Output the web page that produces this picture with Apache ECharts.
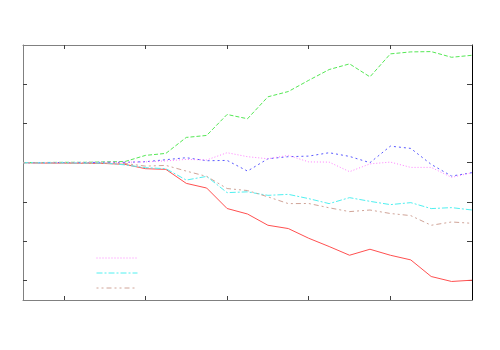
<!DOCTYPE html>
<html>
<head>
<meta charset="utf-8">
<script src="https://cdn.jsdelivr.net/npm/echarts@6/dist/echarts.min.js"></script>
<style>html,body{margin:0;padding:0;background:#fff}#c{width:500px;height:350px}</style>
</head>
<body>
<div id="c"></div>
<script>
const xs = [0,1,2,3,4,5,6,7,8,9,10,11,12,13,14,15,16,17,18,19,20,21,22];
const xTicks = [2,6,10,14,18];
const yTicks = [-3,-2,-1,0,1,2];
const red     = [0,-0.01,-0.01,-0.015,-0.02,-0.043,-0.153,-0.17,-0.527,-0.646,-1.168,-1.308,-1.595,-1.679,-1.926,-2.137,-2.359,-2.206,-2.359,-2.478,-2.901,-3.028,-2.995];
const green   = [0,0.005,0.01,0.01,0.02,0.03,0.186,0.237,0.644,0.695,1.229,1.12,1.679,1.814,2.10,2.374,2.519,2.188,2.774,2.824,2.832,2.687,2.738];
const blue    = [0,0,0.005,0.005,0.01,0.01,0.025,0.076,0.127,0.05,0.058,-0.214,0.10,0.153,0.168,0.254,0.16,0.0,0.422,0.364,-0.043,-0.341,-0.254];
const magenta = [0,0,0.005,0.005,0.01,0.01,0.02,0.046,0.084,0.07,0.254,0.153,0.10,0.186,0.02,0.015,-0.229,-0.03,0.015,-0.12,-0.12,-0.374,-0.254];
const cyan    = [0,-0.005,-0.005,-0.01,-0.01,-0.056,-0.127,-0.153,-0.443,-0.349,-0.763,-0.743,-0.832,-0.807,-0.916,-1.043,-0.891,-0.985,-1.069,-1.018,-1.170,-1.145,-1.206];
const brown   = [0,-0.005,-0.005,-0.005,-0.01,-0.02,-0.087,-0.069,-0.214,-0.349,-0.659,-0.71,-0.87,-1.043,-1.04,-1.15,-1.247,-1.206,-1.295,-1.349,-1.595,-1.511,-1.545];
const legendNames = ['s4','s5','s6'];

function pts(arr){ return xs.map((x,i)=>[x,arr[i]]); }
function mk(name, arr, color, type){
  return {name:name, type:'line', data:pts(arr), symbol:'none', animation:false, silent:true,
    lineStyle:{color:color, width:1, type:type}, itemStyle:{color:color}};
}
const chart = echarts.init(document.getElementById('c'), null, {renderer:'canvas'});
const tickStyle = (c)=>({show:true, inside:true, length:4, lineStyle:{color:c, width:1}});
chart.setOption({
  animation:false,
  backgroundColor:'#fff',
  grid:{left:23, top:45, width:449, height:255, containLabel:false},
  xAxis:[
    {type:'value', position:'bottom', min:0, max:22, axisLine:{show:true, onZero:false, lineStyle:{color:'#808080'}},
     axisTick:Object.assign(tickStyle('#404040'), {customValues:xTicks}), axisLabel:{show:false}, splitLine:{show:false}},
    {type:'value', position:'top', min:0, max:22, axisLine:{show:true, onZero:false, lineStyle:{color:'#808080'}},
     axisTick:Object.assign(tickStyle('#404040'), {customValues:xTicks}), axisLabel:{show:false}, splitLine:{show:false}}
  ],
  yAxis:[
    {type:'value', position:'left', min:-3.5, max:3, axisLine:{show:true, onZero:false, lineStyle:{color:'#808080'}},
     axisTick:Object.assign(tickStyle('#404040'), {customValues:yTicks}), axisLabel:{show:false}, splitLine:{show:false}},
    {type:'value', position:'right', min:-3.5, max:3, axisLine:{show:true, onZero:false, lineStyle:{color:'#000'}},
     axisTick:Object.assign(tickStyle('#404040'), {customValues:yTicks, length:5}), axisLabel:{show:false}, splitLine:{show:false}}
  ],
  legend:{data:legendNames, orient:'vertical', left:96, top:253, itemWidth:41, itemHeight:10, itemGap:6,
    selectedMode:false, formatter:()=>'', textStyle:{fontSize:10}, padding:0,
    itemStyle:{color:'rgba(0,0,0,0)', borderWidth:0, opacity:0},
    lineStyle:{width:1}},
  series:[
    mk('s1', red, '#ff5050', 'solid'),
    mk('s2', green, '#55e855', [4,2]),
    mk('s3', blue, '#5a5aff', [2,3]),
    mk('s4', magenta, '#ff80ff', [1,2]),
    mk('s5', cyan, '#50f0f0', [6,2,2,2]),
    mk('s6', brown, '#d0a498', [2,3,2,3,5,3])
  ]
});
</script>
</body>
</html>
